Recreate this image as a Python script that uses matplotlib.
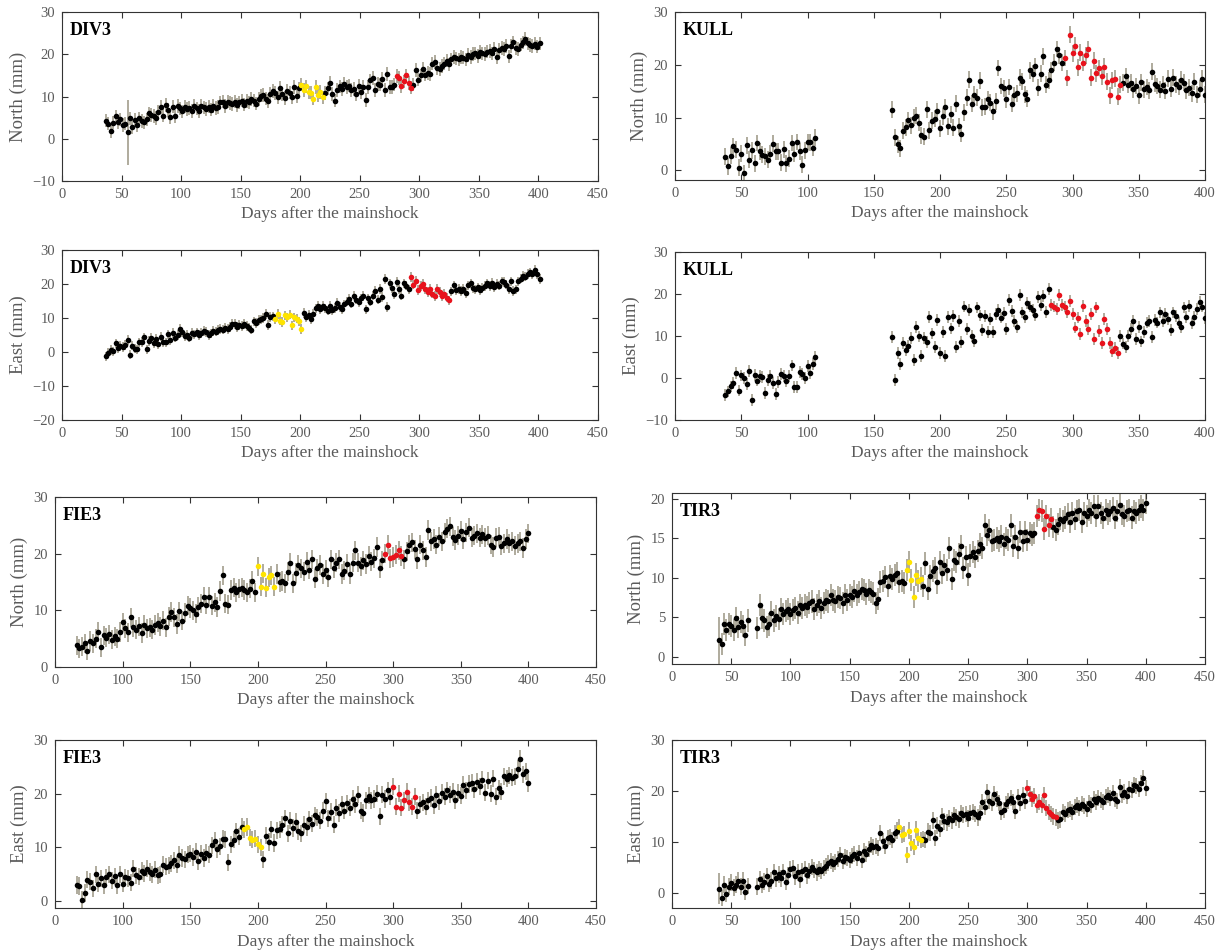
import numpy as np
import matplotlib
matplotlib.use('Agg')
import matplotlib.pyplot as plt

plt.rcParams['font.family'] = ['Liberation Serif', 'DejaVu Serif']

# ---- data (mm), 2-day sampling ----
div3_n_days = list(range(37, 403, 2))
div3_n = [4.3, 3.6, 1.8, 3.8, 5.3, 3.9, 4.6, 3.2, 3.6, 1.5,
          4.8, 2.8, 4.5, 3.2, 4.8, 4.2, 3.9, 4.6, 6.0, 5.6,
          5.4, 4.9, 6.3, 7.5, 5.5, 8.0, 6.8, 5.2, 7.6, 5.3,
          7.8, 7.2, 6.5, 7.6, 7.0, 7.3, 6.6, 7.8, 7.2, 6.6,
          7.8, 7.4, 7.0, 7.6, 6.9, 7.8, 7.3, 7.5, 8.6, 8.8,
          7.8, 8.8, 8.5, 8.2, 8.8, 8.0, 8.6, 9.0, 8.1, 8.9,
          8.6, 9.4, 9.0, 8.3, 9.4, 10.2, 10.4, 9.5, 8.9, 10.6,
          11.3, 10.8, 9.8, 12.0, 10.5, 9.7, 11.3, 10.9, 9.8, 12.2,
          10.1, 11.9, 12.8, 11.5, 12.4, 11.0, 10.9, 9.5, 12.2, 10.4,
          11.1, 9.8, 10.8, 11.9, 13.2, 10.6, 9.0, 11.5, 12.4, 11.8,
          13.0, 12.2, 12.6, 11.6, 11.8, 10.5, 12.5, 11.0, 12.3, 9.2,
          12.3, 13.8, 14.4, 11.5, 13.0, 12.8, 14.2, 11.6, 15.3, 12.2,
          12.3, 12.8, 14.8, 14.4, 12.5, 13.6, 15.0, 13.2, 12.1, 12.8,
          16.3, 14.0, 15.0, 16.5, 15.2, 15.6, 15.3, 17.8, 18.2, 16.8,
          16.5, 17.2, 17.8, 18.5, 17.6, 18.8, 19.4, 19.0, 18.8, 19.4,
          19.2, 18.8, 19.8, 19.3, 20.0, 20.2, 19.6, 20.5, 20.2, 20.0,
          20.6, 20.8, 20.2, 21.3, 19.3, 21.0, 21.5, 21.3, 22.0, 19.5,
          22.0, 22.8, 21.5, 21.2, 22.3, 22.8, 23.6, 22.6, 22.2, 22.0,
          22.5, 21.8, 22.6]

div3_e_days = list(range(37, 403, 2))
div3_e = [-1.3, -0.2, 0.6, 0.2, 2.5, 1.2, 1.8, 1.5, 2.0, 3.5,
          -0.8, 1.9, 1.0, 0.8, 2.8, 3.0, 4.3, 0.8, 3.2, 4.2,
          2.5, 3.8, 2.4, 4.5, 3.0, 2.8, 5.2, 3.6, 5.6, 4.2,
          5.0, 6.8, 5.8, 4.6, 5.0, 4.2, 5.6, 5.2, 5.8, 5.0,
          5.6, 6.2, 5.9, 5.0, 5.5, 6.2, 6.0, 6.4, 6.8, 6.6,
          7.2, 6.7, 7.4, 8.3, 8.2, 7.4, 8.0, 7.6, 8.2, 7.6,
          7.2, 6.6, 9.0, 8.6, 9.4, 9.6, 10.0, 11.2, 8.0, 10.3,
          10.5, 9.6, 11.2, 9.2, 8.8, 10.8, 10.2, 11.0, 7.8, 10.2,
          9.8, 9.0, 6.8, 11.5, 10.2, 11.0, 9.6, 11.2, 12.8, 13.5,
          12.6, 13.5, 12.8, 12.2, 13.6, 12.4, 13.0, 14.5, 13.2, 12.5,
          14.0, 14.8, 15.6, 14.2, 16.6, 15.4, 14.6, 15.8, 16.4, 12.5,
          15.8, 14.8, 16.6, 18.0, 15.4, 18.6, 16.2, 21.5, 13.2, 20.2,
          18.8, 17.0, 20.6, 18.4, 16.6, 20.2, 19.5, 18.4, 22.0, 19.8,
          21.0, 18.2, 19.4, 20.0, 18.4, 17.6, 18.6, 17.2, 16.4, 18.6,
          17.6, 16.5, 17.2, 16.0, 15.2, 17.8, 19.6, 18.2, 18.6, 18.0,
          18.5, 17.4, 19.6, 20.2, 18.8, 18.4, 19.0, 18.2, 18.8, 19.4,
          20.2, 19.4, 20.4, 19.0, 20.0, 19.5, 20.8, 20.6, 19.8, 18.6,
          20.8, 18.0, 18.4, 20.8, 21.6, 22.4, 22.2, 23.0, 23.4, 22.8,
          24.2, 23.0, 21.5]

kull_days = list(range(38, 108, 2)) + list(range(164, 402, 2))
kull_n = [2.6, 0.8, 2.8, 4.6, 3.9, 0.5, 3.2, -0.5, 4.8, 2.0,
          3.8, 1.4, 5.2, 3.6, 3.0, 2.7, 2.0, 3.2, 5.1, 3.6,
          3.6, 1.5, 4.0, 1.4, 2.2, 5.2, 3.2, 5.4, 3.6, 1.1,
          3.8, 5.4, 5.3, 4.3, 6.2,
          11.5, 6.3, 5.0, 4.2, 7.5, 8.2, 9.5, 8.6, 10.0, 10.4,
          9.0, 6.7, 6.4, 11.6, 7.6, 9.4, 9.8, 11.2, 8.0, 10.3,
          12.0, 8.4, 10.6, 8.1, 12.6, 8.4, 7.0, 11.0, 13.8, 17.2,
          12.6, 14.3, 13.8, 17.0, 12.0, 12.1, 13.5, 12.8, 11.2, 13.1,
          19.4, 16.0, 15.6, 13.5, 15.8, 12.6, 14.2, 14.6, 17.6, 16.9,
          14.4, 13.6, 19.0, 18.3, 19.7, 15.7, 18.3, 21.6, 16.2, 17.1,
          19.0, 20.4, 23.0, 21.8, 20.4, 21.3, 17.5, 25.7, 22.2, 23.6,
          19.5, 22.3, 20.4, 21.8, 23.0, 17.6, 20.8, 18.4, 19.4, 17.8,
          19.6, 16.8, 14.2, 17.1, 17.4, 14.0, 16.2, 16.6, 17.8, 16.2,
          16.6, 15.4, 16.0, 14.2, 16.7, 15.4, 15.8, 15.2, 18.7, 16.4,
          16.0, 15.3, 16.2, 15.1, 17.4, 15.5, 17.6, 16.3, 15.8, 17.2,
          16.6, 15.2, 15.7, 14.6, 16.8, 14.3, 15.5, 17.4, 14.3]
kull_e = [-4.0, -3.2, -2.0, -1.2, 1.2, -3.0, 0.6, 0.0, -1.5, 1.6,
          -5.2, 0.8, -0.6, 0.4, 0.3, -3.5, -0.4, 0.4, -1.2, -3.8,
          -1.0, 1.0, 0.5, -0.8, 0.4, 3.0, -2.2, -2.2, 1.5, 1.0,
          0.0, 2.8, 1.2, 3.4, 5.0,
          9.8, -0.5, 5.9, 3.3, 8.3, 6.6, 7.6, 9.6, 4.2, 12.2,
          9.9, 5.3, 9.6, 8.6, 14.6, 10.6, 7.3, 13.8, 6.0, 11.0,
          5.2, 14.5, 11.8, 14.8, 7.4, 13.6, 8.6, 17.0, 11.6, 16.2,
          10.0, 8.8, 16.8, 14.9, 11.4, 14.8, 11.0, 14.0, 11.0, 15.2,
          16.2, 14.4, 15.4, 11.6, 18.6, 16.0, 13.5, 12.2, 19.8, 15.6,
          14.5, 17.8, 17.0, 16.2, 15.0, 19.2, 17.3, 19.6, 15.7, 21.2,
          17.4, 17.0, 16.5, 19.7, 17.4, 17.0, 15.8, 18.4, 15.2, 12.0,
          14.4, 10.5, 17.2, 13.6, 11.6, 15.3, 9.3, 16.8, 11.1, 8.3,
          14.0, 11.6, 8.4, 6.4, 7.2, 6.0, 10.0, 8.2, 7.3, 10.0,
          11.6, 13.6, 9.3, 12.2, 8.7, 11.0, 13.2, 13.6, 9.7, 13.8,
          13.2, 15.6, 13.6, 15.2, 14.1, 11.4, 15.6, 14.7, 13.2, 12.2,
          16.8, 14.6, 17.1, 13.0, 14.5, 16.5, 18.2, 17.0, 14.3]

fie3_days = list(range(66, 402, 2))
fie3_n = [3.8, 3.3, 3.6, 4.2, 2.9, 4.6, 4.2, 5.0, 6.2, 3.5,
          5.6, 5.2, 5.8, 4.8, 5.4, 5.0, 6.2, 7.9, 6.8, 6.1,
          8.8, 7.0, 6.6, 7.2, 6.0, 7.4, 6.8, 7.0, 6.6, 7.4,
          7.8, 7.2, 8.2, 7.0, 8.9, 9.7, 8.8, 7.6, 9.8, 8.2,
          9.6, 10.8, 10.4, 10.0, 9.4, 10.6, 11.2, 12.4, 11.0, 12.4,
          10.8, 11.4, 10.6, 13.4, 16.2, 11.2, 11.0, 13.6, 14.0, 13.2,
          13.8, 14.0, 13.6, 13.2, 13.8, 15.2, 13.2, 17.8, 14.2, 16.5,
          14.0, 15.8, 16.2, 14.2, 16.4, 15.0, 15.2, 14.8, 16.8, 18.4,
          14.8, 16.6, 18.0, 17.4, 16.8, 18.6, 17.2, 19.0, 15.6, 17.4,
          18.0, 16.4, 17.2, 15.8, 19.0, 17.4, 18.4, 19.0, 16.4, 17.0,
          18.2, 16.4, 18.4, 20.6, 18.4, 17.8, 18.8, 18.2, 19.6, 18.6,
          19.2, 21.2, 17.4, 18.8, 20.0, 21.6, 19.2, 19.4, 19.8, 20.6,
          19.6, 19.0, 20.4, 21.6, 22.0, 20.8, 19.0, 21.6, 20.6, 19.4,
          24.2, 22.2, 22.6, 21.6, 23.0, 22.2, 23.8, 24.4, 24.8, 23.0,
          22.4, 23.2, 24.0, 22.6, 23.8, 24.6, 22.8, 23.2, 23.6, 22.8,
          23.4, 22.8, 23.2, 21.6, 21.2, 22.8, 23.0, 21.4, 21.8, 22.6,
          21.8, 22.2, 21.4, 21.8, 22.2, 21.0, 22.6, 23.6]
fie3_e = [3.0, 2.8, 0.2, 1.5, 4.0, 3.6, 2.4, 5.0, 3.2, 4.2,
          2.9, 4.4, 5.0, 3.8, 4.6, 3.0, 5.0, 3.2, 4.4, 4.2,
          3.4, 6.0, 4.8, 4.5, 5.6, 5.2, 6.0, 5.4, 5.0, 5.8,
          4.8, 5.0, 6.8, 6.4, 6.6, 7.0, 7.6, 6.8, 8.6, 8.0,
          7.8, 8.6, 8.8, 8.2, 9.2, 7.4, 8.8, 8.0, 9.0, 8.6,
          10.4, 11.2, 9.6, 10.2, 11.6, 11.5, 7.2, 10.6, 11.4, 13.0,
          12.0, 13.8, 13.4, 13.8, 11.8, 11.4, 11.6, 10.6, 10.0, 7.8,
          12.2, 11.0, 13.4, 10.8, 13.2, 13.4, 14.2, 15.4, 12.6, 15.0,
          13.6, 14.8, 13.0, 12.6, 14.2, 13.8, 15.2, 14.4, 16.0, 15.6,
          15.0, 16.8, 18.6, 15.4, 16.6, 14.2, 17.4, 16.4, 18.0, 16.8,
          18.2, 17.4, 19.0, 18.0, 19.8, 16.8, 16.4, 18.8, 19.6, 18.8,
          19.0, 20.0, 15.8, 19.8, 19.0, 20.6, 19.4, 21.3, 17.6, 20.0,
          17.4, 18.8, 20.4, 18.4, 17.6, 19.4, 16.8, 18.0, 18.4, 17.6,
          18.8, 19.2, 17.8, 19.8, 18.6, 20.2, 19.4, 20.6, 19.8, 20.4,
          18.8, 20.2, 19.6, 21.6, 20.6, 21.8, 22.0, 20.8, 22.2, 21.4,
          22.6, 20.2, 22.4, 20.0, 22.8, 19.4, 21.0, 20.4, 23.2, 22.8,
          23.4, 23.0, 23.2, 24.6, 26.5, 23.6, 24.2, 22.0]

tir3_days = list(range(40, 66, 2)) + list(range(72, 402, 2))
tir3_n = [2.1, 1.6, 4.2, 3.4, 4.2, 3.9, 3.4, 4.9, 3.8, 4.4,
          3.9, 2.8, 4.6,
          3.7, 6.6, 4.9, 4.6, 3.8, 4.1, 5.6, 4.6, 5.2, 4.8,
          6.0, 5.4, 5.8, 6.1, 5.4, 5.9, 6.2, 5.6, 6.5, 6.2,
          6.6, 6.3, 6.8, 7.0, 6.0, 6.6, 7.0, 6.2, 6.8, 7.2,
          7.0, 7.8, 7.2, 7.0, 7.6, 7.4, 6.8, 7.8, 7.2, 7.8,
          7.6, 8.3, 7.8, 8.2, 8.6, 8.4, 7.9, 8.4, 8.2, 8.0,
          6.8, 7.3, 9.5, 9.6, 10.1, 9.0, 10.2, 9.8, 10.3, 10.6,
          9.5, 9.6, 9.3, 11.0, 12.0, 9.7, 7.6, 10.4, 9.6, 9.9,
          9.0, 11.8, 8.6, 10.2, 10.8, 11.2, 9.4, 12.0, 10.6, 11.6,
          11.0, 13.8, 9.8, 12.2, 12.0, 13.0, 14.0, 11.2, 12.6, 10.4,
          12.8, 13.2, 12.6, 13.4, 14.2, 13.8, 16.6, 15.4, 16.0, 14.6,
          14.8, 15.0, 14.6, 15.2, 14.2, 15.0, 14.8, 16.6, 14.0, 15.2,
          13.8, 15.8, 14.6, 15.8, 14.8, 15.6, 15.4, 15.6, 17.8, 18.6,
          18.4, 16.2, 17.8, 16.6, 17.4, 16.4, 16.0, 16.8, 17.4, 17.2,
          17.6, 18.0, 17.0, 18.2, 17.4, 18.4, 18.6, 17.0, 18.2, 17.8,
          18.6, 18.2, 19.0, 17.8, 19.0, 18.2, 17.6, 18.6, 18.0, 18.4,
          18.8, 17.6, 18.4, 19.2, 18.0, 17.8, 18.4, 18.6, 17.6, 18.4,
          18.2, 18.6, 19.0, 18.6, 19.5]
tir3_e = [0.8, -1.1, 1.6, -0.2, 1.2, 2.0, 1.0, 1.6, 2.4, 1.2,
          2.4, 0.1, 1.3,
          1.2, 2.6, 1.6, 2.2, 3.2, 1.8, 2.4, 4.0, 2.8, 3.6,
          2.8, 4.0, 2.2, 3.4, 4.6, 4.8, 3.2, 4.0, 2.6, 4.2,
          4.6, 3.4, 4.2, 5.0, 4.4, 4.0, 4.6, 4.2, 4.8, 5.2,
          5.8, 6.2, 5.6, 6.0, 6.6, 7.4, 6.2, 7.0, 6.8, 6.4,
          7.2, 7.6, 6.8, 7.8, 6.4, 8.2, 7.6, 8.6, 9.4, 9.0,
          9.2, 8.8, 11.8, 10.2, 9.2, 10.8, 11.0, 10.4, 11.8, 12.2,
          12.9, 11.4, 11.6, 7.4, 12.2, 9.8, 9.0, 12.4, 10.8, 10.4,
          10.6, 10.4, 12.0, 11.8, 14.2, 10.8, 13.2, 12.6, 15.0, 14.0,
          13.8, 14.6, 14.2, 15.2, 14.8, 14.4, 15.6, 15.2, 15.4, 14.6,
          15.6, 15.8, 15.4, 14.8, 15.6, 17.8, 16.8, 19.8, 18.0, 17.6,
          19.4, 18.4, 17.6, 15.8, 16.2, 17.4, 18.0, 18.6, 17.8, 16.0,
          18.8, 17.6, 19.2, 18.0, 20.6, 19.4, 18.4, 19.0, 17.2, 17.8,
          17.2, 19.2, 16.6, 15.8, 15.4, 15.0, 14.8, 14.2, 14.4, 15.8,
          15.4, 16.2, 16.4, 15.8, 16.8, 17.2, 16.6, 17.4, 17.0, 16.4,
          17.6, 17.2, 18.4, 17.8, 18.6, 18.2, 17.8, 18.8, 19.2, 18.6,
          19.6, 18.4, 18.0, 20.8, 19.2, 19.8, 19.0, 20.4, 20.2, 21.2,
          21.0, 20.4, 21.6, 22.6, 20.6]

# 1-sigma error (mm) per panel, plus a few odd points
sigma = {'div3_n': 1.6, 'div3_e': 1.4, 'kull_n': 1.6, 'kull_e': 1.4,
         'fie3_n': 1.7, 'fie3_e': 1.6, 'tir3_n': 1.4, 'tir3_e': 1.6}
big_err = {'div3_n': {55: 7.7}, 'tir3_n': {40: 3.0}, 'tir3_e': {40: 3.0}}

# highlighted windows (days): yellow and red
yellow = {'div3_n': (200, 220), 'div3_e': (178, 202), 'fie3_n': (199, 212),
          'fie3_e': (189, 202), 'tir3_n': (197, 211), 'tir3_e': (191, 210)}
red = {'div3_n': (280, 293), 'div3_e': (292, 326), 'kull_n': (294, 336),
       'kull_e': (284, 334), 'fie3_n': (294, 306), 'fie3_e': (300, 316),
       'tir3_n': (307, 321), 'tir3_e': (300, 325)}

GRAY = '#5a5a5a'
ECOL = '#a29d8c'
YEL = '#ffe400'
RED = '#e8121c'

W, H = 1223, 951
fig = plt.figure(figsize=(W / 100, H / 100), dpi=100)


def box(l, t, r, b):
    return [l / W, 1 - b / H, (r - l) / W, (b - t) / H]


def panel(rect, key, days, vals, station, ylabel, ylim, yticks, xlim, xticks, xlabels=None):
    ax = fig.add_axes(box(*rect))
    d = np.array(days)
    v = np.array(vals)
    e = np.full(len(d), sigma[key])
    for day, s in big_err.get(key, {}).items():
        e[d == day] = s
    ax.errorbar(d, v, yerr=e, fmt='none', ecolor=ECOL, elinewidth=1.2, capsize=0, zorder=1)
    col = np.array(['k'] * len(d), dtype=object)
    if key in yellow:
        a, b = yellow[key]
        col[(d >= a) & (d <= b)] = YEL
    if key in red:
        a, b = red[key]
        col[(d >= a) & (d <= b)] = RED
    for c in ['k', YEL, RED]:
        m = col == c
        ax.plot(d[m], v[m], 'o', color=c, ms=4.0, mew=0, zorder=3)
    ax.set_xlim(*xlim)
    ax.set_ylim(*ylim)
    ax.set_xticks(xticks)
    if xlabels is not None:
        ax.set_xticklabels(xlabels)
    ax.set_yticks(yticks)
    ax.tick_params(direction='in', top=True, right=True, length=4, width=0.8,
                   labelsize=10.5, labelcolor=GRAY, color='#333333', pad=5)
    for s in ax.spines.values():
        s.set_color('#333333')
        s.set_linewidth(0.8)
    ax.set_xlabel('Days after the mainshock', fontsize=12.5, color=GRAY, labelpad=4)
    ax.set_ylabel(ylabel, fontsize=13.5, color=GRAY, labelpad=4)
    ax.text(0.015, 0.94, station, transform=ax.transAxes, fontsize=13, fontweight='bold',
            va='top', ha='left')
    return ax


x450 = list(range(0, 451, 50))
x400 = list(range(0, 401, 50))
fie_ticks = list(range(50, 451, 50))
fie_labels = ['0'] + [str(t) for t in range(100, 451, 50)]

panel((62, 12, 598, 181), 'div3_n', div3_n_days, div3_n, 'DIV3', 'North (mm)',
      (-10, 30), [-10, 0, 10, 20, 30], (0, 450), x450)
panel((675, 12, 1205, 180), 'kull_n', kull_days, kull_n, 'KULL', 'North (mm)',
      (-1.8, 30), [0, 10, 20, 30], (0, 400), x400)
panel((62, 250, 598, 420), 'div3_e', div3_e_days, div3_e, 'DIV3', 'East (mm)',
      (-20, 30), [-20, -10, 0, 10, 20, 30], (0, 450), x450)
panel((675, 252, 1205, 420), 'kull_e', kull_days, kull_e, 'KULL', 'East (mm)',
      (-10, 30), [-10, 0, 10, 20, 30], (0, 400), x400)
panel((55, 497, 596, 667), 'fie3_n', fie3_days, fie3_n, 'FIE3', 'North (mm)',
      (0, 30), [0, 10, 20, 30], (50, 450), fie_ticks, fie_labels)
panel((672, 493, 1205, 664), 'tir3_n', tir3_days, tir3_n, 'TIR3', 'North (mm)',
      (-0.9, 20.7), [0, 5, 10, 15, 20], (0, 450), x450)
panel((55, 740, 596, 908), 'fie3_e', fie3_days, fie3_e, 'FIE3', 'East (mm)',
      (-1.3, 30), [0, 10, 20, 30], (50, 450), fie_ticks, fie_labels)
panel((672, 740, 1205, 908), 'tir3_e', tir3_days, tir3_e, 'TIR3', 'East (mm)',
      (-3, 30), [0, 10, 20, 30], (0, 450), x450)

fig.savefig('out.png', dpi=100)
